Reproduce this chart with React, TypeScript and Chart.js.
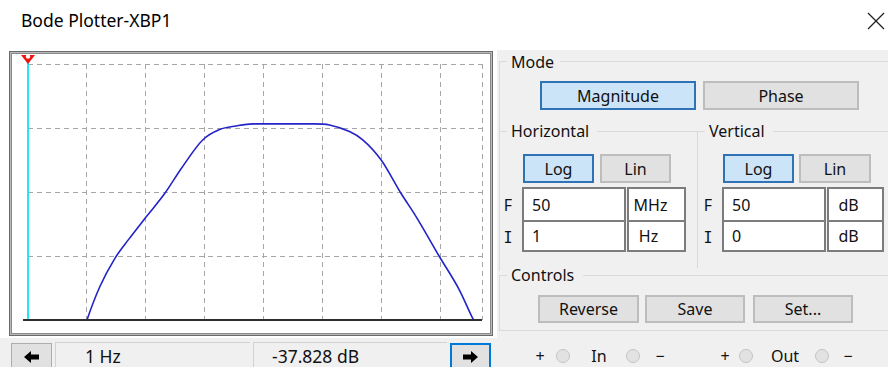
import React, { useEffect, useRef } from "react";
import { Chart, registerables } from "chart.js";

Chart.register(...registerables);

// ---- data ----
const FREQ_HZ = [1, 10, 16.5, 29.6, 49.8, 101.9, 208, 398, 925, 1778, 3388, 6457, 71800, 129800, 283000, 475000, 975000, 2.125e6, 3.81e6, 9.46e6, 2.06e7, 3.56e7, 5.0e7];
const MAG_DB = [-37.828, 0, 6.5, 12.0, 15.6, 20.2, 24.7, 29.6, 35.2, 37.2, 37.9, 38.3, 38.3, 38.1, 36.8, 35.2, 31.25, 24.7, 20.2, 12.4, 5.9, 0.1, -2.8];
const X_TICKS = [1, 10, 100, 1e3, 1e4, 1e5, 1e6, 1e7, 5e7];
const Y_TICKS = [0, 12.5, 25, 37.5, 50];
const X_MIN = 1;
const X_MAX = 5e7;
const Y_MIN = 0;
const Y_MAX = 50;
const CURSOR_HZ = 1;
const CURSOR_FREQ_LABEL = "1 Hz";
const CURSOR_MAG_LABEL = "-37.828 dB";

const FONT = "'Noto Sans', 'Open Sans', sans-serif";

const overlayPlugin = {
  id: "bodeOverlay",
  afterDatasetsDraw(chart: any) {
    const { ctx, chartArea, scales } = chart;
    const xs = scales.x;
    const ys = scales.y;
    const y0 = ys.getPixelForValue(Y_MIN);
    ctx.save();
    // zero-dB baseline
    ctx.strokeStyle = "#2e2e2e";
    ctx.lineWidth = 2;
    ctx.beginPath();
    ctx.moveTo(chartArea.left - 5, y0);
    ctx.lineTo(chartArea.right, y0);
    ctx.stroke();
    // cursor
    const cx = Math.round(xs.getPixelForValue(CURSOR_HZ));
    ctx.strokeStyle = "#22e6f2";
    ctx.lineWidth = 2;
    ctx.beginPath();
    ctx.moveTo(cx, chartArea.top - 4);
    ctx.lineTo(cx, y0 - 1);
    ctx.stroke();
    // red cursor marker
    ctx.fillStyle = "#f21010";
    ctx.beginPath();
    ctx.moveTo(cx - 7, 1);
    ctx.lineTo(cx + 7, 1);
    ctx.lineTo(cx, 10);
    ctx.closePath();
    ctx.fill();
    ctx.fillStyle = "#ffffff";
    ctx.beginPath();
    ctx.arc(cx, 2.5, 2.2, 0, Math.PI * 2);
    ctx.fill();
    ctx.restore();
  },
};

function BodeChart() {
  const ref = useRef<HTMLCanvasElement>(null);
  useEffect(() => {
    if (!ref.current) return;
    const gridColor = (c: any) =>
      c.tick && c.tick.value === Y_MIN ? "rgba(0,0,0,0)" : "#a6a6a6";
    const chart = new Chart(ref.current, {
      type: "line",
      data: {
        datasets: [
          {
            data: FREQ_HZ.map((f, i) => ({ x: f, y: MAG_DB[i] })),
            borderColor: "#2323c8",
            borderWidth: 1.6,
            pointRadius: 0,
            fill: false,
            cubicInterpolationMode: "monotone",
          } as any,
        ],
      },
      options: {
        animation: false,
        responsive: false,
        maintainAspectRatio: false,
        devicePixelRatio: 1,
        events: [],
        layout: { padding: { left: 16, right: 8, top: 10, bottom: 13 } },
        plugins: { legend: { display: false }, tooltip: { enabled: false } },
        scales: {
          x: {
            type: "logarithmic",
            min: X_MIN,
            max: X_MAX,
            afterBuildTicks: (s: any) => {
              s.ticks = X_TICKS.map((v) => ({ value: v }));
            },
            ticks: { display: false },
            border: { display: false, dash: [5, 4] },
            grid: {
              color: "#a6a6a6",
              lineWidth: 1,
              drawTicks: false,
            },
          },
          y: {
            type: "linear",
            min: Y_MIN,
            max: Y_MAX,
            afterBuildTicks: (s: any) => {
              s.ticks = Y_TICKS.map((v) => ({ value: v }));
            },
            ticks: { display: false },
            border: { display: false, dash: [5, 4] },
            grid: {
              color: gridColor,
              lineWidth: 1,
              drawTicks: false,
            },
          },
        },
      } as any,
      plugins: [overlayPlugin],
    });
    return () => chart.destroy();
  }, []);
  return (
    <canvas
      ref={ref}
      width={478}
      height={279}
      style={{ position: "absolute", left: 12, top: 54, width: 478, height: 279 }}
    />
  );
}

type BoxProps = {
  x: number;
  y: number;
  w: number;
  h: number;
  style?: React.CSSProperties;
  children?: React.ReactNode;
  align?: "left" | "center";
};

function Box({ x, y, w, h, style, children, align = "center" }: BoxProps) {
  return (
    <div
      style={{
        position: "absolute",
        left: x,
        top: y,
        width: w,
        height: h,
        boxSizing: "border-box",
        display: "flex",
        alignItems: "center",
        justifyContent: align === "center" ? "center" : "flex-start",
        fontFamily: FONT,
        fontSize: 16,
        color: "#111",
        whiteSpace: "nowrap",
        ...style,
      }}
    >
      {children}
    </div>
  );
}

function Btn({ x, y, w, h, label, selected }: { x: number; y: number; w: number; h: number; label: string; selected?: boolean }) {
  return (
    <Box
      x={x}
      y={y}
      w={w}
      h={h}
      style={{
        background: selected ? "#cce4f7" : "#e1e1e1",
        border: selected ? "2px solid #2f72b6" : "2px solid #bdbdbd",
      }}
    >
      {label}
    </Box>
  );
}

function Field({ x, y, w, h, text, align = "left", pad = 8 }: { x: number; y: number; w: number; h: number; text: string; align?: "left" | "center"; pad?: number }) {
  return (
    <Box
      x={x}
      y={y}
      w={w}
      h={h}
      align={align}
      style={{
        background: "#ffffff",
        border: "2px solid #7c7c7c",
        paddingLeft: align === "left" ? pad : 0,
        paddingRight: align === "center" ? pad : 0,
      }}
    >
      {text}
    </Box>
  );
}

function Line({ x, y, w, h }: { x: number; y: number; w: number; h: number }) {
  return <div style={{ position: "absolute", left: x, top: y, width: w, height: h, background: "#dadada" }} />;
}

function Radio({ cx, cy }: { cx: number; cy: number }) {
  return (
    <div
      style={{
        position: "absolute",
        left: cx - 7,
        top: cy - 7,
        width: 14,
        height: 14,
        boxSizing: "border-box",
        borderRadius: "50%",
        border: "1px solid #c4c4c4",
        background: "#e2e2e2",
      }}
    />
  );
}

function Arrow({ dir }: { dir: "left" | "right" }) {
  const pts = dir === "left" ? "0,6 7,0 7,3.5 15,3.5 15,8.5 7,8.5 7,12" : "15,6 8,0 8,3.5 0,3.5 0,8.5 8,8.5 8,12";
  return (
    <svg width={15} height={12} viewBox="0 0 15 12">
      <polygon points={pts} fill="#000" />
    </svg>
  );
}

export default function App() {
  return (
    <div
      style={{
        position: "fixed",
        left: 0,
        top: 0,
        width: 888,
        height: 367,
        background: "#ffffff",
        overflow: "hidden",
        fontFamily: FONT,
      }}
    >
      {/* title bar */}
      <Box x={21} y={7} w={300} h={25} align="left" style={{ fontSize: 17.5, color: "#000" }}>
        Bode Plotter-XBP1
      </Box>
      <svg style={{ position: "absolute", left: 866, top: 11 }} width={20} height={20} viewBox="0 0 20 20">
        <line x1={2} y1={2} x2={18} y2={18} stroke="#222" strokeWidth={1.3} />
        <line x1={18} y1={2} x2={2} y2={18} stroke="#222" strokeWidth={1.3} />
      </svg>

      {/* backgrounds */}
      <div style={{ position: "absolute", left: 497, top: 50, width: 391, height: 317, background: "#f0f0f0" }} />
      <div style={{ position: "absolute", left: 0, top: 338, width: 497, height: 29, background: "#f0f0f0" }} />

      {/* plot frame */}
      <div
        style={{
          position: "absolute",
          left: 9,
          top: 51,
          width: 484,
          height: 285,
          boxSizing: "border-box",
          border: "1px solid #6a6a6a",
          background: "#b9b9b9",
        }}
      >
        <div
          style={{
            position: "absolute",
            left: 1,
            top: 1,
            right: 1,
            bottom: 1,
            border: "1px solid #8a8a8a",
            background: "#ffffff",
          }}
        />
      </div>
      <BodeChart />

      {/* bottom readout row */}
      <Box x={11} y={343} w={41} h={28} style={{ background: "#e1e1e1", border: "1px solid #adadad" }}>
        <Arrow dir="left" />
      </Box>
      <Box
        x={55}
        y={342}
        w={195}
        h={30}
        align="left"
        style={{ background: "#f0f0f0", borderTop: "1px solid #d2d2d2", borderLeft: "1px solid #d2d2d2", paddingLeft: 29, fontSize: 17.5, paddingBottom: 4 }}
      >
        {CURSOR_FREQ_LABEL}
      </Box>
      <Box
        x={253}
        y={342}
        w={194}
        h={30}
        align="left"
        style={{ background: "#f0f0f0", borderTop: "1px solid #d2d2d2", borderLeft: "1px solid #d2d2d2", paddingLeft: 18, fontSize: 17.5, paddingBottom: 4 }}
      >
        {CURSOR_MAG_LABEL}
      </Box>
      <Box x={450} y={343} w={41} h={28} style={{ background: "#e1e1e1", border: "2px solid #0078d7" }}>
        <Arrow dir="right" />
      </Box>

      {/* group box lines */}
      <Line x={499} y={61} w={8} h={1} />
      <Line x={560} y={61} w={328} h={1} />
      <Line x={499} y={61} w={1} h={210} />
      <Line x={499} y={131} w={8} h={1} />
      <Line x={597} y={131} w={100} h={1} />
      <Line x={697} y={131} w={8} h={1} />
      <Line x={773} y={131} w={115} h={1} />
      <Line x={697} y={131} w={1} h={137} />
      <Line x={499} y={275} w={8} h={1} />
      <Line x={583} y={275} w={305} h={1} />
      <Line x={499} y={275} w={1} h={56} />
      <Line x={499} y={330} w={389} h={1} />

      {/* labels */}
      <Box x={511} y={50} w={60} h={24} align="left">Mode</Box>
      <Box x={511} y={119} w={90} h={24} align="left">Horizontal</Box>
      <Box x={709} y={119} w={70} h={24} align="left">Vertical</Box>
      <Box x={511} y={263} w={80} h={24} align="left">Controls</Box>

      {/* mode buttons */}
      <Btn x={540} y={81} w={156} h={29} label="Magnitude" selected />
      <Btn x={703} y={81} w={156} h={29} label="Phase" />

      {/* horizontal */}
      <Btn x={523} y={154} w={71} h={29} label="Log" selected />
      <Btn x={600} y={154} w={71} h={29} label="Lin" />
      <Box x={501} y={193} w={14} h={24}>F</Box>
      <Box x={501} y={226} w={14} h={24} style={{ fontFamily: "'DejaVu Sans Mono', monospace", fontSize: 15 }}>I</Box>
      <Field x={522} y={187} w={104} h={35} text="50" />
      <Field x={627} y={187} w={59} h={35} text="MHz" align="center" pad={12} />
      <Field x={522} y={220} w={104} h={32} text="1" />
      <Field x={627} y={220} w={59} h={32} text="Hz" align="center" pad={16} />

      {/* vertical */}
      <Btn x={723} y={154} w={71} h={29} label="Log" selected />
      <Btn x={799} y={154} w={72} h={29} label="Lin" />
      <Box x={701} y={193} w={14} h={24}>F</Box>
      <Box x={701} y={226} w={14} h={24} style={{ fontFamily: "'DejaVu Sans Mono', monospace", fontSize: 15 }}>I</Box>
      <Field x={722} y={187} w={104} h={35} text="50" />
      <Field x={827} y={187} w={57} h={35} text="dB" align="center" pad={14} />
      <Field x={722} y={220} w={104} h={32} text="0" />
      <Field x={827} y={220} w={57} h={32} text="dB" align="center" pad={14} />

      {/* controls */}
      <Btn x={538} y={295} w={101} h={28} label="Reverse" />
      <Btn x={645} y={295} w={100} h={28} label="Save" />
      <Btn x={753} y={295} w={100} h={28} label="Set..." />

      {/* terminals */}
      <Box x={532} y={344} w={16} h={24}>+</Box>
      <Radio cx={563} cy={356} />
      <Box x={588} y={344} w={22} h={24}>In</Box>
      <Radio cx={633} cy={356} />
      <Box x={652} y={344} w={16} h={24}>−</Box>
      <Box x={717} y={344} w={16} h={24}>+</Box>
      <Radio cx={746} cy={356} />
      <Box x={769} y={344} w={32} h={24}>Out</Box>
      <Radio cx={822} cy={356} />
      <Box x={840} y={344} w={16} h={24}>−</Box>
    </div>
  );
}
